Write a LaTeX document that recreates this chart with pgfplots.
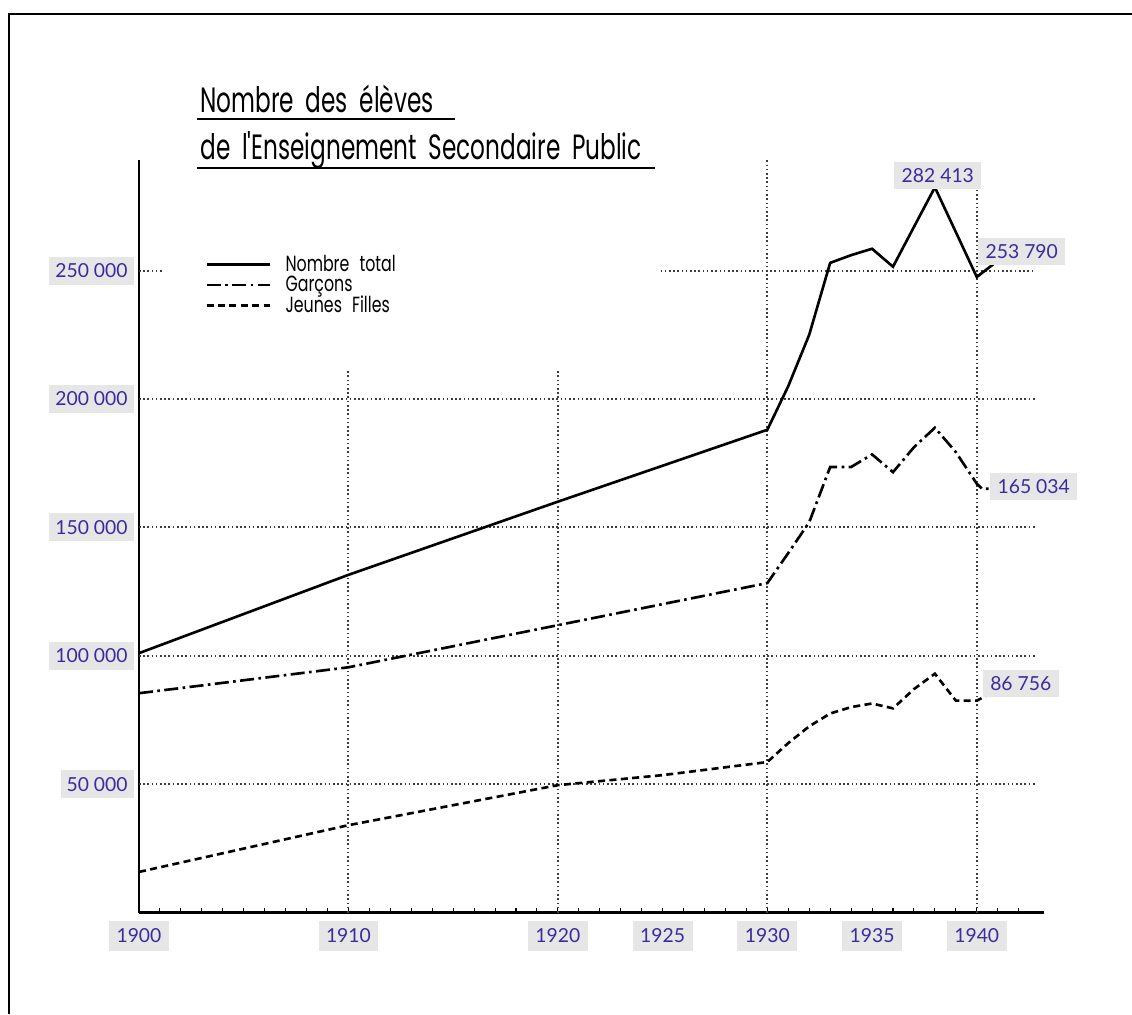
\documentclass[border=0pt]{standalone}
\usepackage{pgfplots}
\pgfplotsset{compat=1.18}
\usepackage{fontspec}
\setmainfont{Lato}
\newfontfamily\hand{Poppins}[FakeStretch=0.66, WordSpace=1.9]
\newfontfamily\handleg{Poppins}[FakeStretch=0.72, WordSpace=2.4]
\newfontfamily\lab{Lato}
\definecolor{labblue}{RGB}{58,44,160}
\definecolor{boxgray}{RGB}{230,230,230}
\definecolor{gridc}{RGB}{60,60,60}
\begin{document}
\begin{tikzpicture}[x=0.02cm,y=0.02cm]
\path[use as bounding box] (0,0) rectangle (1132,1014);
\draw[line width=1.6pt] (9,0) -- (9,1000) -- (1132,1000);
% title
\node[anchor=base west, font=\hand\fontsize{20}{24}\selectfont, inner sep=0] at (200,901) {Nombre des élèves};
\draw[line width=0.9pt] (197,895) -- (455,895);
\node[anchor=base west, font=\hand\fontsize{20}{24}\selectfont, inner sep=0] at (200,854) {de l'Enseignement Secondaire Public};
\draw[line width=0.9pt] (197,846) -- (655,846);
\begin{axis}[
  at={(2.78cm,2.03cm)}, anchor=south west,
  width=18.1cm, height=15.05cm, scale only axis,
  xmin=1900, xmax=1943.2, ymin=0, ymax=293000,
  clip=false,
  scaled y ticks=false,
  axis x line*=bottom, axis y line*=left,
  axis line style={line width=1.6pt, -},
  xtick={1900,1910,1920,1925,1930,1935,1940},
  xticklabels={1900,1910,1920,1925,1930,1935,1940},
  minor xtick={1900,1901,...,1942},
  tick align=inside,
  major tick length=0.1cm, minor tick length=0.1cm,
  xtick style={black, line width=0.6pt},
  minor tick style={black, line width=0.6pt},
  ytick={50000,100000,150000,200000,250000},
  yticklabels={50 000,100 000,150 000,200 000,250 000},
  ytick style={draw=none},
  xticklabel style={fill=boxgray, text=labblue, font=\lab\fontsize{11}{13}\selectfont, inner xsep=0.15cm, minimum height=0.6cm, yshift=-0.16cm},
  yticklabel style={fill=boxgray, text=labblue, font=\lab\fontsize{11}{13}\selectfont, inner xsep=0.12cm, minimum height=0.56cm, xshift=-0.1cm},
  legend style={at={(0.067,0.882)}, anchor=north west, draw=none, fill=none,
    font=\handleg\fontsize{12.5}{14}\selectfont, row sep=-1.2pt, column sep=0.22cm, legend cell align=left,
    nodes={inner ysep=1.2pt}},
  legend image code/.code={\draw[#1, line width=1.6pt] (0cm,0cm) -- (1.26cm,0cm);},
]
% grid
\begin{scope}[gridc, line width=1.1pt, dash pattern=on 0.9pt off 1.5pt]
\draw (axis cs:1900,50000) -- (axis cs:1942.8,50000);
\draw (axis cs:1900,100000) -- (axis cs:1942.8,100000);
\draw (axis cs:1900,150000) -- (axis cs:1942.8,150000);
\draw (axis cs:1900,200000) -- (axis cs:1942.8,200000);
\draw (axis cs:1900,250000) -- (axis cs:1901.1,250000);
\draw (axis cs:1924.9,250000) -- (axis cs:1942.8,250000);
\draw (axis cs:1910,0) -- (axis cs:1910,211000);
\draw (axis cs:1920,0) -- (axis cs:1920,211000);
\draw (axis cs:1930,0) -- (axis cs:1930,293000);
\draw (axis cs:1940,0) -- (axis cs:1940,291000);
\end{scope}
\addplot[black, line width=1.5pt] coordinates {
 (1900,101000) (1910,131500) (1920,160000) (1930,188000) (1931,205000) (1932,225000)
 (1933,253000) (1934,256000) (1935,258500) (1936,251500) (1937,267000) (1938,282413)
 (1939,265000) (1940,247500) (1941,253790)};
\addlegendentry{Nombre total}
\addplot[black, line width=1.5pt, dash pattern=on 8pt off 2.5pt on 1.5pt off 2.5pt] coordinates {
 (1900,85400) (1910,95500) (1920,111900) (1930,128300) (1931,140000) (1932,152000)
 (1933,173500) (1934,173500) (1935,178400) (1936,171500) (1937,181200) (1938,188800)
 (1939,179300) (1940,167000) (1940.25,165034) (1941,165034)};
\addlegendentry{Garçons}
\addplot[black, line width=1.5pt, dash pattern=on 4pt off 2.5pt] coordinates {
 (1900,15800) (1910,34000) (1920,49600) (1925,53500) (1930,58600) (1931,66000)
 (1932,72500) (1933,77500) (1934,80000) (1935,81400) (1936,79500) (1937,87000)
 (1938,93000) (1939,82500) (1940,82500) (1941,86756)};
\addlegendentry{Jeunes Filles}
\begin{scope}[every node/.style={fill=boxgray, text=labblue, font=\lab\fontsize{11}{13}\selectfont, inner xsep=0.15cm, minimum height=0.54cm}]
\node at (axis cs:1938.14,287000) {282 413};
\node at (axis cs:1942.15,257400) {253 790};
\node at (axis cs:1942.72,165950) {165 034};
\node at (axis cs:1942.1,89300) {86 756};
\end{scope}
\end{axis}
\end{tikzpicture}
\end{document}
